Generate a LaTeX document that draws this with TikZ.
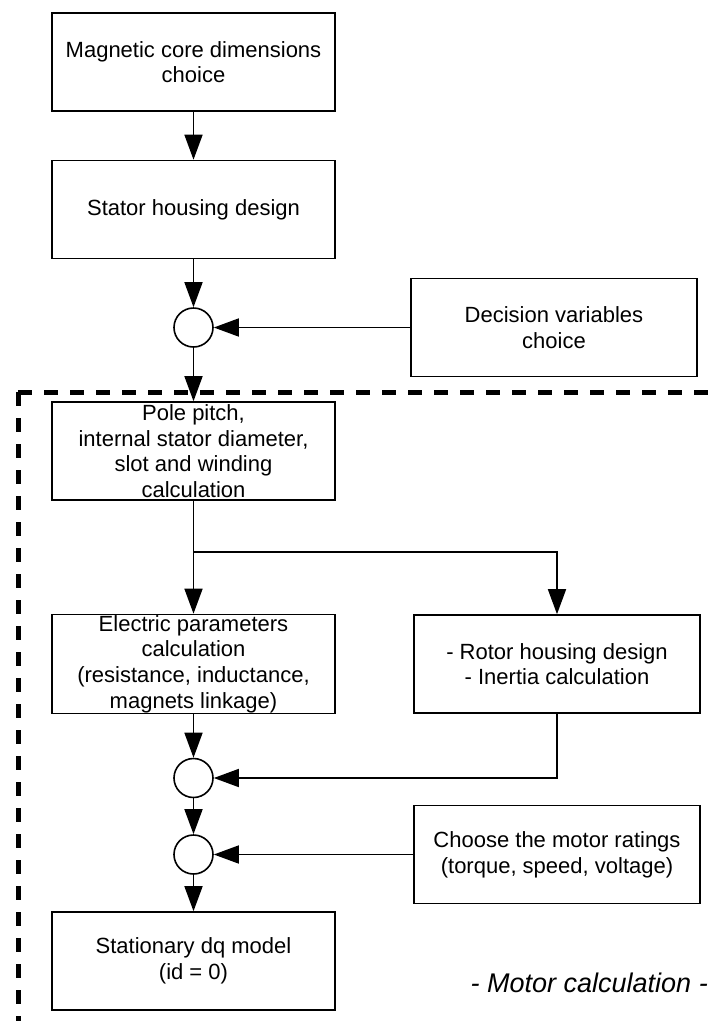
\documentclass[tikz,border=0pt]{standalone}
\usepackage{fontspec}
\setmainfont{Liberation Sans}
\usetikzlibrary{arrows.meta}
\begin{document}
\begin{tikzpicture}[x=1pt,y=-1pt,
  box/.style={draw, line width=1.6pt, minimum width=283pt, minimum height=98pt, inner sep=0pt, align=center, font=\fontsize{22}{25.7}\selectfont},
  rbox/.style={box, minimum width=286pt},
  sumnode/.style={draw, circle, line width=1.6pt, minimum size=39pt, inner sep=0pt},
  conn/.style={line width=1.6pt},
  arr/.style={conn, -{Triangle[length=25pt,width=18pt]}},
  border/.style={line width=5pt, dash pattern=on 14pt off 12pt}
]
\useasboundingbox (0,0) rectangle (720,1021);
% dashed frame of the motor calculation
\draw[border] (18,392) -- (735,392);
\draw[border] (18,392) -- (18,1023) -- (735,1023);

\node[box] (core) at (193.5,62) {Magnetic core dimensions\\choice};
\node[box] (stator) at (193.5,209.5) {Stator housing design};
\node[sumnode] (s1) at (193.5,327.5) {};
\node[rbox] (dec) at (554,327.5) {Decision variables\\choice};
\node[box] (pole) at (193.5,451) {Pole pitch,\\internal stator diameter,\\slot and winding\\calculation};
\coordinate (split) at (193.5,552);
\node[box, minimum height=99pt] (elec) at (193.5,664) {Electric parameters\\calculation\\(resistance, inductance,\\magnets linkage)};
\node[rbox] (rotor) at (557,664) {- Rotor housing design\\- Inertia calculation};
\node[sumnode] (s2) at (193.5,778) {};
\node[sumnode] (s3) at (193.5,854.5) {};
\node[rbox] (rat) at (557,854.5) {Choose the motor ratings\\(torque, speed, voltage)};
\node[box] (dq) at (193.5,961) {Stationary dq model\\(id = 0)};
\node[font=\fontsize{27}{30}\selectfont\itshape, anchor=east, inner sep=0pt] (lbl) at (708,983) {- Motor calculation -};

\draw[arr] (core) -- (stator);
\draw[arr] (stator) -- (s1);
\draw[arr] (dec.west) -- (s1.east);
\draw[arr] (s1) -- (pole);
\draw[conn] (pole.south) -- (split);
\draw[arr] (split) -- (elec);
\draw[arr] (split) -| (rotor.north);
\draw[arr] (elec) -- (s2);
\draw[arr] (rotor.south) |- (s2.east);
\draw[arr] (s2) -- (s3);
\draw[arr] (rat.west) -- (s3.east);
\draw[arr] (s3) -- (dq);
\end{tikzpicture}
\end{document}
